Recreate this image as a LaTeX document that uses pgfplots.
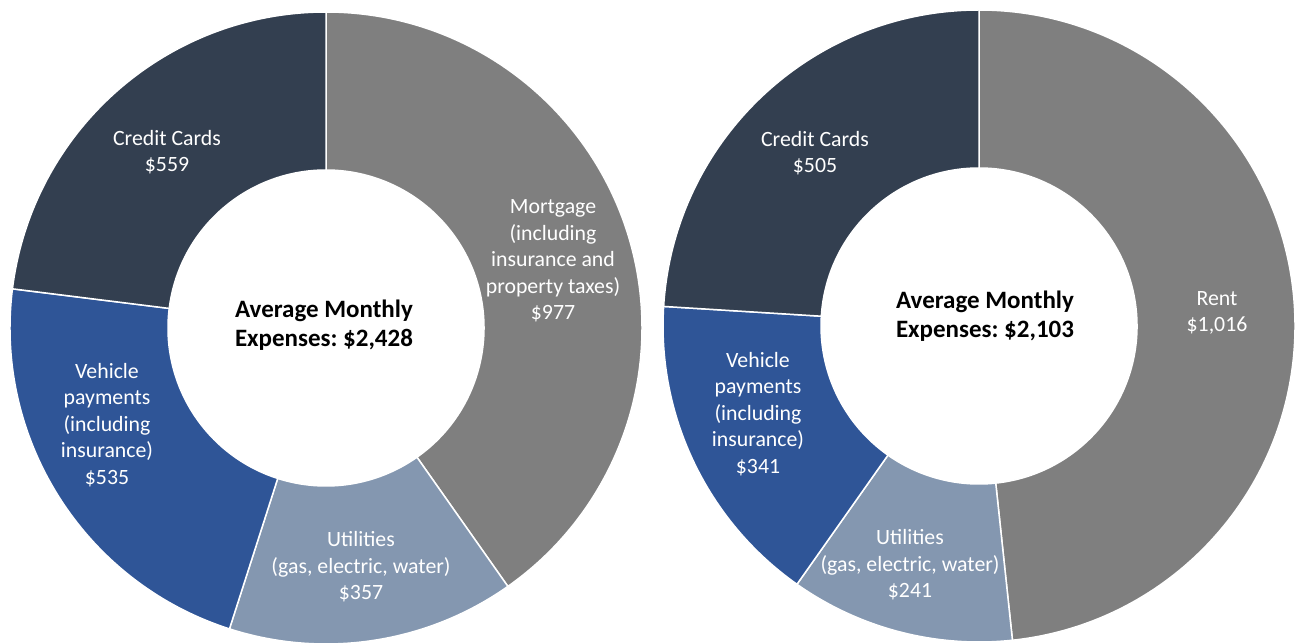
\documentclass[border=0pt]{standalone}
\usepackage{pgfplots}
\pgfplotsset{compat=1.18}
\usepackage{pgfplotstable}
\usepackage{fontspec}
\setmainfont{Carlito}
\frenchspacing
\definecolor{cGray}{HTML}{7F7F7F}
\definecolor{cUtil}{HTML}{8497B0}
\definecolor{cVeh}{HTML}{2F5597}
\definecolor{cCC}{HTML}{333F50}
\colorlet{slice0}{cGray}
\colorlet{slice1}{cUtil}
\colorlet{slice2}{cVeh}
\colorlet{slice3}{cCC}

% Homeowners: Mortgage, Utilities, Vehicle, Credit cards
\pgfplotstableread{
value
977
357
535
559
}\owndata
% Renters: Rent, Utilities, Vehicle, Credit cards
\pgfplotstableread{
value
1016
241
341
505
}\rentdata

\newcommand\prepdonut[2]{%
  \pgfplotstablecreatecol[create col/expr accum={\pgfmathaccuma + \thisrow{value}}{0}]{cum}#1%
  \pgfplotstablegetelem{3}{cum}\of#1\edef\donuttot{\pgfplotsretval}%
  \pgfplotsforeachungrouped \i in {0,...,3}{%
    \pgfplotstablegetelem{\i}{cum}\of#1\edef\cumv{\pgfplotsretval}%
    \pgfplotstablegetelem{\i}{value}\of#1\edef\valv{\pgfplotsretval}%
    \pgfmathsetmacro\fracA{(\cumv-\valv)/\donuttot}%
    \pgfmathsetmacro\fracB{\cumv/\donuttot}%
    \pgfmathsetmacro\angA{90-\fracA*360}%
    \pgfmathsetmacro\angB{90-\fracB*360}%
    \expandafter\xdef\csname #2\i a\endcsname{\angA}%
    \expandafter\xdef\csname #2\i b\endcsname{\angB}%
  }%
}
\prepdonut{\owndata}{L}
\prepdonut{\rentdata}{R}

\newcommand\drawslice[2]{%
  \edef\tmp{\noexpand\fill[slice#2, draw=white, line width=0.75pt] (axis cs:0,0) ++(\csname #1#2a\endcsname:158pt) arc[start angle=\csname #1#2a\endcsname, end angle=\csname #1#2b\endcsname, radius=158pt] -- ++(\csname #1#2b\endcsname+180:79pt) arc[start angle=\csname #1#2b\endcsname, end angle=\csname #1#2a\endcsname, radius=79pt] -- cycle;}\tmp}

\tikzset{lbl/.style={font=\fontsize{10.9}{13.25}\selectfont, align=center, text=white, inner sep=0pt},
         ctr/.style={font=\fontsize{12.5}{14.3}\selectfont\bfseries, align=center, text=black, inner sep=0pt}}

\begin{document}
\begin{tikzpicture}
\path[use as bounding box] (0,0) rectangle (649.5pt,321.5pt);
\begin{axis}[at={(163pt,157.5pt)}, anchor=origin, x=1pt, y=1pt,
  xmin=-160, xmax=160, ymin=-160, ymax=160, hide axis, clip=false]
\pgfplotsinvokeforeach{0,...,3}{\drawslice{L}{#1}}
\node[lbl] at (axis cs:-79.5,88) {Credit Cards\\\$559};
\node[lbl] at (axis cs:113.5,33.5) {Mortgage\\(including\\insurance and\\property taxes)\\\$977};
\node[lbl] at (axis cs:-109.5,-48.5) {Vehicle\\payments\\(including\\insurance)\\\$535};
\node[lbl] at (axis cs:17.5,-119.5) {Utilities\\(gas, electric, water)\\\$357};
\node[ctr] at (axis cs:-1,1.5) {Average Monthly\\Expenses: \$2,428};
\end{axis}
\begin{axis}[at={(489.5pt,158.5pt)}, anchor=origin, x=1pt, y=1pt,
  xmin=-160, xmax=160, ymin=-160, ymax=160, hide axis, clip=false]
\pgfplotsinvokeforeach{0,...,3}{\drawslice{R}{#1}}
\node[lbl] at (axis cs:-82,86.5) {Credit Cards\\\$505};
\node[lbl] at (axis cs:119,6.5) {Rent\\\$1,016};
\node[lbl] at (axis cs:-110.5,-44) {Vehicle\\payments\\(including\\insurance)\\\$341};
\node[lbl] at (axis cs:-34.5,-119.5) {Utilities\\(gas, electric, water)\\\$241};
\node[ctr] at (axis cs:3,5) {Average Monthly\\Expenses: \$2,103};
\end{axis}
\end{tikzpicture}
\end{document}
